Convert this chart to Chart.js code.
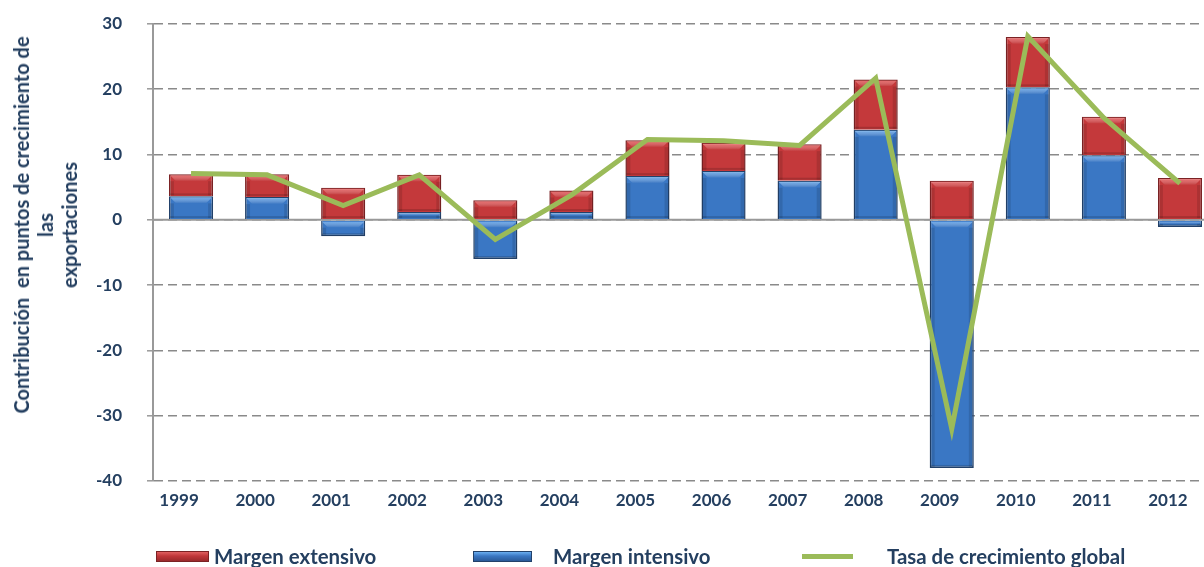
<!DOCTYPE html>
<html>
<head>
<meta charset="utf-8">
<script src="https://cdn.jsdelivr.net/npm/chart.js@4.4.1/dist/chart.umd.min.js"></script>
<style>
  html, body { margin: 0; padding: 0; background: #fff; overflow: hidden; width: 1204px; height: 567px; }
  #wrap { position: relative; width: 1218px; height: 567px; }
  #wrap canvas { position: absolute; left: 0; top: 0; }
  .txt { position: absolute; font-family: Lato, "Open Sans", sans-serif; font-weight: 700; color: #243F60; white-space: nowrap; }
  #ytitle { left: 45px; top: 225px; width: 0; height: 0; }
  #ytitle div { position: absolute; transform: translate(-50%, -50%) rotate(-90deg); text-align: center; font-size: 20px; line-height: 24px; }
  .sw { position: absolute; box-sizing: border-box; }
  .lg { font-size: 20.4px; line-height: 22px; top: 545px; }
</style>
</head>
<body>
<div id="wrap">
  <canvas id="c" width="1218" height="567"></canvas>
  <div id="ytitle" class="txt"><div>Contribución&nbsp; en puntos de crecimiento de<br>las<br>exportaciones</div></div>
  <div class="sw" style="left:156px;top:551px;width:53px;height:11px;background:linear-gradient(#e06060,#c0373a 45%,#9a2a2c);border:1px solid #7b2224;"></div>
  <div class="txt lg" style="left:214px;">Margen extensivo</div>
  <div class="sw" style="left:473px;top:551px;width:59px;height:11px;background:linear-gradient(#6aaef0,#3a76c2 45%,#2a5a98);border:1px solid #22416a;"></div>
  <div class="txt lg" style="left:553px;">Margen intensivo</div>
  <div class="sw" style="left:802px;top:554px;width:51px;height:5px;background:#9bbb59;"></div>
  <div class="txt lg" style="left:887px;">Tasa de crecimiento global</div>
</div>
<script>
const years = ["1999", "2000", "2001", "2002", "2003", "2004", "2005", "2006", "2007", "2008", "2009", "2010", "2011", "2012"]
const margenIntensivo = [3.6, 3.5, -2.5, 1.2, -6.0, 1.2, 6.7, 7.5, 6.0, 13.8, -38.0, 20.3, 9.9, -1.1]
const margenExtensivo = [3.4, 3.5, 4.9, 5.7, 3.0, 3.3, 5.5, 4.3, 5.6, 7.7, 6.0, 7.7, 5.9, 6.4]
const tasaGlobal = [7.1, 6.9, 2.2, 6.9, -3.0, 3.8, 12.3, 12.1, 11.4, 21.7, -32.0, 28.1, 15.6, 5.6]
const yTicks = [-40, -30, -20, -10, 0, 10, 20, 30]

const textColor = "#243F60"
const gridColor = "#8a8a8a"

// solid zero line under the bars
const zeroLine = {
  id: "zeroLine",
  beforeDatasetsDraw(chart) {
    const { ctx, chartArea, scales } = chart
    const y = scales.y.getPixelForValue(0)
    ctx.save()
    ctx.strokeStyle = "#999"
    ctx.lineWidth = 2
    ctx.beginPath()
    ctx.moveTo(chartArea.left, y)
    ctx.lineTo(chartArea.right, y)
    ctx.stroke()
    ctx.restore()
  }
}

// bevel look on the bars: light top band, darker sides
const bevel = {
  id: "bevel",
  afterDatasetDraw(chart, args) {
    const meta = args.meta
    if (meta.type !== "bar") return
    const light = meta.index === 1 ? "rgba(120,190,255,0.75)" : "rgba(255,120,120,0.7)"
    const ctx = chart.ctx
    ctx.save()
    meta.data.forEach(bar => {
      const left = bar.x - bar.width / 2
      const right = bar.x + bar.width / 2
      const top = Math.min(bar.y, bar.base)
      const bottom = Math.max(bar.y, bar.base)
      const h = bottom - top
      if (h < 3) return
      const b = Math.min(7, h / 2)
      let g = ctx.createLinearGradient(0, top, 0, top + b)
      g.addColorStop(0, light)
      g.addColorStop(1, "rgba(255,255,255,0)")
      ctx.fillStyle = g
      ctx.beginPath()
      ctx.moveTo(left + 1, top + 1)
      ctx.lineTo(right - 1, top + 1)
      ctx.lineTo(right - b, top + b)
      ctx.lineTo(left + b, top + b)
      ctx.closePath()
      ctx.fill()
      ctx.fillStyle = "rgba(0,0,0,0.12)"
      ctx.fillRect(left + 1, top + b, 4, h - b - 1)
      ctx.fillRect(right - 5, top + b, 4, h - b - 1)
      ctx.fillStyle = "rgba(0,0,0,0.15)"
      ctx.fillRect(left + 1, bottom - 3, bar.width - 2, 2)
    })
    ctx.restore()
  }
}

new Chart(document.getElementById("c"), {
  data: {
    labels: years,
    datasets: [
      {
        type: "line",
        label: "Tasa de crecimiento global",
        data: tasaGlobal,
        borderColor: "#9bbb59",
        borderWidth: 5,
        pointRadius: 0,
        tension: 0,
        stack: "line",
        order: 0,
      },
      {
        type: "bar",
        label: "Margen intensivo",
        data: margenIntensivo,
        backgroundColor: "#3a77c4",
        borderColor: "#22416a",
        borderWidth: 1.5,
        stack: "bars",
        barPercentage: 0.58,
        categoryPercentage: 1,
        order: 1,
      },
      {
        type: "bar",
        label: "Margen extensivo",
        data: margenExtensivo,
        backgroundColor: "#c4393b",
        borderColor: "#7b2224",
        borderWidth: 1.5,
        stack: "bars",
        barPercentage: 0.58,
        categoryPercentage: 1,
        order: 1,
      },
    ]
  },
  options: {
    responsive: false,
    animation: false,
    layout: { padding: { left: 0, right: 0, top: 24, bottom: 56 } },
    plugins: {
      legend: { display: false },
      tooltip: { enabled: false },
    },
    scales: {
      x: {
        stacked: true,
        grid: { display: false },
        border: { display: false },
        ticks: {
          color: textColor,
          font: { family: "Lato", size: 17, weight: "700" },
          padding: 1,
          labelOffset: -12,
          maxRotation: 0,
        },
        afterFit: (s) => { s.height = 30 },
      },
      y: {
        stacked: true,
        min: -40,
        max: 30,
        afterBuildTicks: (s) => { s.ticks = yTicks.map(v => ({ value: v })) },
        afterFit: (s) => { s.width = 153; s.paddingTop = 0; s.paddingBottom = 0 },
        grid: {
          color: gridColor,
          lineWidth: 1.6,
          tickLength: 6,
          tickColor: "#999",
          tickWidth: 1.5,
          tickBorderDash: [],
        },
        border: { display: true, color: "#999", width: 2, dash: [9, 5] },
        ticks: {
          color: textColor,
          font: { family: "Lato", size: 17, weight: "700" },
          padding: 25,
        },
      }
    }
  },
  plugins: [zeroLine, bevel]
})
</script>
</body>
</html>
